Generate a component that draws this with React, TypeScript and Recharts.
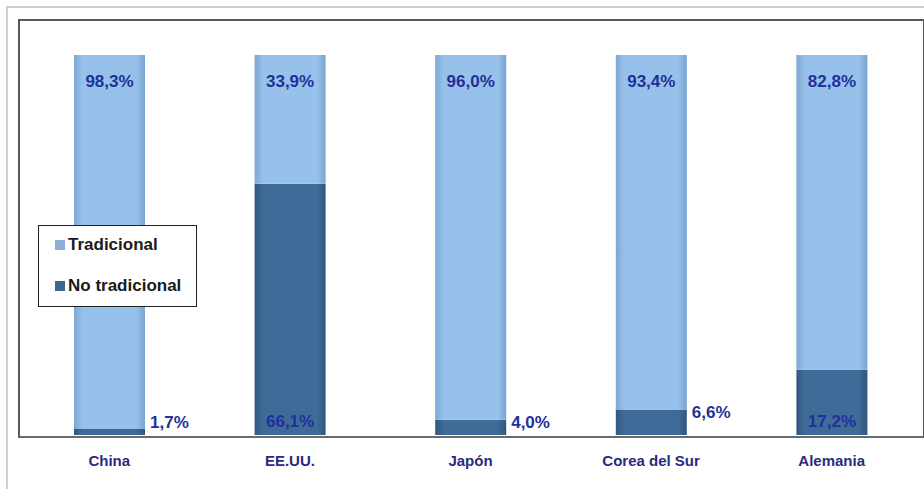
import React from 'react';
import { BarChart, Bar, XAxis, YAxis, Legend, LabelList } from 'recharts';

const categories = ['China', 'EE.UU.', 'Japón', 'Corea del Sur', 'Alemania'];
const tradicional = [98.3, 33.9, 96.0, 93.4, 82.8];
const noTradicional = [1.7, 66.1, 4.0, 6.6, 17.2];

const data = categories.map((c, i) => ({
  name: c,
  trad: tradicional[i],
  noTrad: noTradicional[i],
}));

const FONT = '"Liberation Sans", Arial, sans-serif';
const VALUE_COLOR = '#22309a';
const fmt = (v: number) => v.toFixed(1).replace('.', ',') + '%';

const NoTradLabel = (props: any) => {
  const { x, y, width, height, value } = props;
  const bottom = y + height;
  const inside = value > 10;
  const cy = inside ? bottom - 14 : Math.min(bottom - 13, y + 3);
  return (
    <text
      x={inside ? x + width / 2 : x + width + 5}
      y={cy}
      textAnchor={inside ? 'middle' : 'start'}
      dominantBaseline="central"
      fontFamily={FONT}
      fontWeight="bold"
      fontSize={17}
      fill={VALUE_COLOR}
    >
      {fmt(Number(value))}
    </text>
  );
};

const TradLabel = (props: any) => {
  const { x, y, width, value } = props;
  return (
    <text
      x={x + width / 2}
      y={y + 27}
      textAnchor="middle"
      dominantBaseline="central"
      fontFamily={FONT}
      fontWeight="bold"
      fontSize={17}
      fill={VALUE_COLOR}
    >
      {fmt(Number(value))}
    </text>
  );
};

const LegendBox = () => (
  <div
    style={{
      width: 159,
      height: 82,
      border: '1.5px solid #222',
      background: '#fff',
      fontFamily: FONT,
      fontWeight: 'bold',
      fontSize: 17,
      color: '#1a1a1a',
      boxSizing: 'border-box',
      position: 'relative',
    }}
  >
    <div style={{ position: 'absolute', left: 16, top: 9, display: 'flex', alignItems: 'center' }}>
      <span style={{ display: 'inline-block', width: 10, height: 10, background: '#8eaed3', marginRight: 3 }} />
      Tradicional
    </div>
    <div style={{ position: 'absolute', left: 16, top: 50, display: 'flex', alignItems: 'center' }}>
      <span style={{ display: 'inline-block', width: 10, height: 10, background: '#3d6693', marginRight: 3 }} />
      No tradicional
    </div>
  </div>
);

export default function App() {
  return (
    <div style={{ position: 'absolute', left: 0, top: 0, width: 924, height: 489, background: '#fff' }}>
      <div
        style={{
          position: 'absolute',
          left: 6,
          top: 6,
          width: 930,
          height: 500,
          border: '2px solid #cfcfcf',
        }}
      />
      <div
        style={{
          position: 'absolute',
          left: 18,
          top: 19,
          width: 903,
          height: 415,
          border: '2px solid #585858',
          borderBottomColor: '#6a6a6a',
        }}
      />
      <div style={{ position: 'absolute', left: 0, top: 0 }}>
        <BarChart
          width={924}
          height={489}
          data={data}
          margin={{ top: 20, right: 2, left: 19, bottom: 24 }}
          barCategoryGap="0%"
        >
          <defs>
            <linearGradient id="gTrad" x1="0" y1="0" x2="1" y2="0">
              <stop offset="0%" stopColor="#7da7d3" />
              <stop offset="12%" stopColor="#97c1ea" />
              <stop offset="88%" stopColor="#97c1ea" />
              <stop offset="100%" stopColor="#7aa3cf" />
            </linearGradient>
            <linearGradient id="gNo" x1="0" y1="0" x2="1" y2="0">
              <stop offset="0%" stopColor="#30587f" />
              <stop offset="12%" stopColor="#3f6b99" />
              <stop offset="88%" stopColor="#3f6b99" />
              <stop offset="100%" stopColor="#2f567d" />
            </linearGradient>
          </defs>
          <XAxis
            dataKey="name"
            height={30}
            axisLine={false}
            tickLine={false}
            tickMargin={14}
            tick={{ fontFamily: FONT, fontWeight: 'bold', fontSize: 15, fill: '#2a2a80' }}
            interval={0}
          />
          <YAxis hide domain={[0, 109.2]} type="number" allowDataOverflow />
          <Legend
            layout="horizontal"
            verticalAlign="middle"
            align="center"
            content={() => <LegendBox />}
            wrapperStyle={{ left: 38, top: 225, width: 159, height: 83 }}
          />
          <Bar dataKey="noTrad" stackId="a" fill="url(#gNo)" barSize={71} isAnimationActive={false}>
            <LabelList dataKey="noTrad" content={NoTradLabel} />
          </Bar>
          <Bar dataKey="trad" stackId="a" fill="url(#gTrad)" barSize={71} isAnimationActive={false}>
            <LabelList dataKey="trad" content={TradLabel} />
          </Bar>
        </BarChart>
      </div>
    </div>
  );
}
